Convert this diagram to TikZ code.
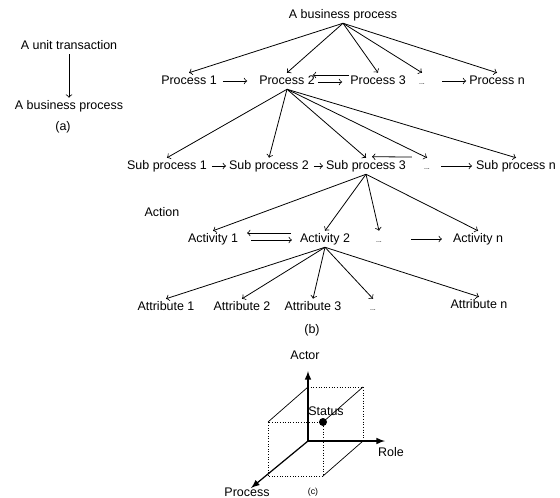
\documentclass[tikz,border=0pt]{standalone}
\usepackage{fontspec}
\setmainfont{Liberation Sans}
\usetikzlibrary{calc}
\begin{document}
\begin{tikzpicture}[x=0.02cm,y=-0.02cm,
  every node/.style={inner sep=1pt,text height=5.5pt,text depth=1.5pt,font=\fontsize{7.1}{8}\selectfont},
  dots/.style={font=\fontsize{4}{5}\selectfont},
  small/.style={font=\fontsize{5}{6}\selectfont},
  link/.style={->,line width=0.45pt},
  axis/.style={-latex,line width=0.7pt},
  hidden/.style={densely dotted,line width=0.5pt},
  edge/.style={line width=0.4pt}]
\useasboundingbox (0,0) rectangle (560,497);

\node (unit) at (69,46) {A unit transaction};
\node (bpa) at (69,106) {A business process};
\node (capa) at (63,127) {(a)};
\draw[link] (unit) -- (bpa);

\node (bp) at (343,15) {A business process};
\node (p1) at (189,81) {Process 1};
\node (p2) at (287,81) {Process 2};
\node (p3) at (378,81) {Process 3};
\node (pd) at (422,81) [dots] {...};
\node (pn) at (497,81) {Process n};
\foreach \n in {p1,p2,p3,pd,pn}
  \draw[link] (bp.south) -- (\n.north);
\draw[link] ($(p1.east)+(4,0)$) -- ($(p2.west)+(-10,0)$);
\draw[link] ($(p2.east)+(1,1)$) -- ($(p3.west)+(-6,1)$);
\draw[link] ($(p3.west)+(1,-6)$) -- ($(p2.east)+(-4,-6)$);
\draw[link] ($(pd.east)+(15,0)$) -- ($(pn.west)+(-1,0)$);

\node (s1) at (167,166) {Sub process 1};
\node (s2) at (269,166) {Sub process 2};
\node (s3) at (366,166) {Sub process 3};
\node (sd) at (427,166) [dots] {...};
\node (sn) at (516,166) {Sub process n};
\foreach \n in {s1,s2,s3,sd,sn}
  \draw[link] (p2.south) -- (\n.north);
\draw[link] ($(s1.east)+(3,0)$) -- ($(s2.west)+(-1,0)$);
\draw[link] ($(s2.east)+(3,0)$) -- ($(s3.west)+(-1,0)$);
\draw[link] ($(sd.west)+(-10,-9)$) -- ($(s3.north)+(6,-1)$);
\draw[link] ($(sd.east)+(9,0)$) -- ($(sn.west)+(-2,0)$);

\node (act) at (162,213) {Action};
\node (a1) at (213,239) {Activity 1};
\node (a2) at (325,239) {Activity 2};
\node (ad) at (379,239) [dots] {...};
\node (an) at (478,239) {Activity n};
\foreach \n in {a1,a2,ad,an}
  \draw[link] (s3.south) -- (\n.north);
\draw[link] ($(a1.east)+(11,1)$) -- ($(a2.west)+(-6,1)$);
\draw[link] ($(a2.west)+(-7,-6)$) -- ($(a1.east)+(7,-6)$);
\draw[link] ($(ad.east)+(27,0)$) -- ($(an.west)+(-9,0)$);

\node (t1) at (166,307) {Attribute 1};
\node (t2) at (242,307) {Attribute 2};
\node (t3) at (313,307) {Attribute 3};
\node (td) at (373,307) [dots] {...};
\node (tn) at (479,305) {Attribute n};
\foreach \n in {t1,t2,t3,td,tn}
  \draw[link] (a2.south) -- (\n.north);
\node (capb) at (312,330) {(b)};

\coordinate (o) at (308,441);
\coordinate (b1) at (308,387);
\coordinate (b2) at (363,387);
\coordinate (b3) at (363,441);
\coordinate (f0) at (268,476);
\coordinate (f1) at (268,422);
\coordinate (f2) at (323,422);
\coordinate (f3) at (323,476);
\draw[hidden] (b1) -- (b2) -- (b3);
\draw[hidden] (f0) -- (f1) -- (f2) -- (f3) -- cycle;
\draw[edge] (f1) -- (b1);
\draw[edge] (f2) -- (b2);
\draw[edge] (f3) -- (b3);
\node (actor) at (305,356) {Actor};
\node (role) at (391,453) {Role};
\node (proc) at (247,493) {Process};
\draw[axis] (o) -- (308,371);
\draw[axis] (o) -- (385,441);
\draw[axis] (o) -- (251,488);
\fill (f2) circle (4);
\node (stat) at (326,412) {Status};
\node (capc) at (313,491) [small] {(c)};
\end{tikzpicture}
\end{document}
